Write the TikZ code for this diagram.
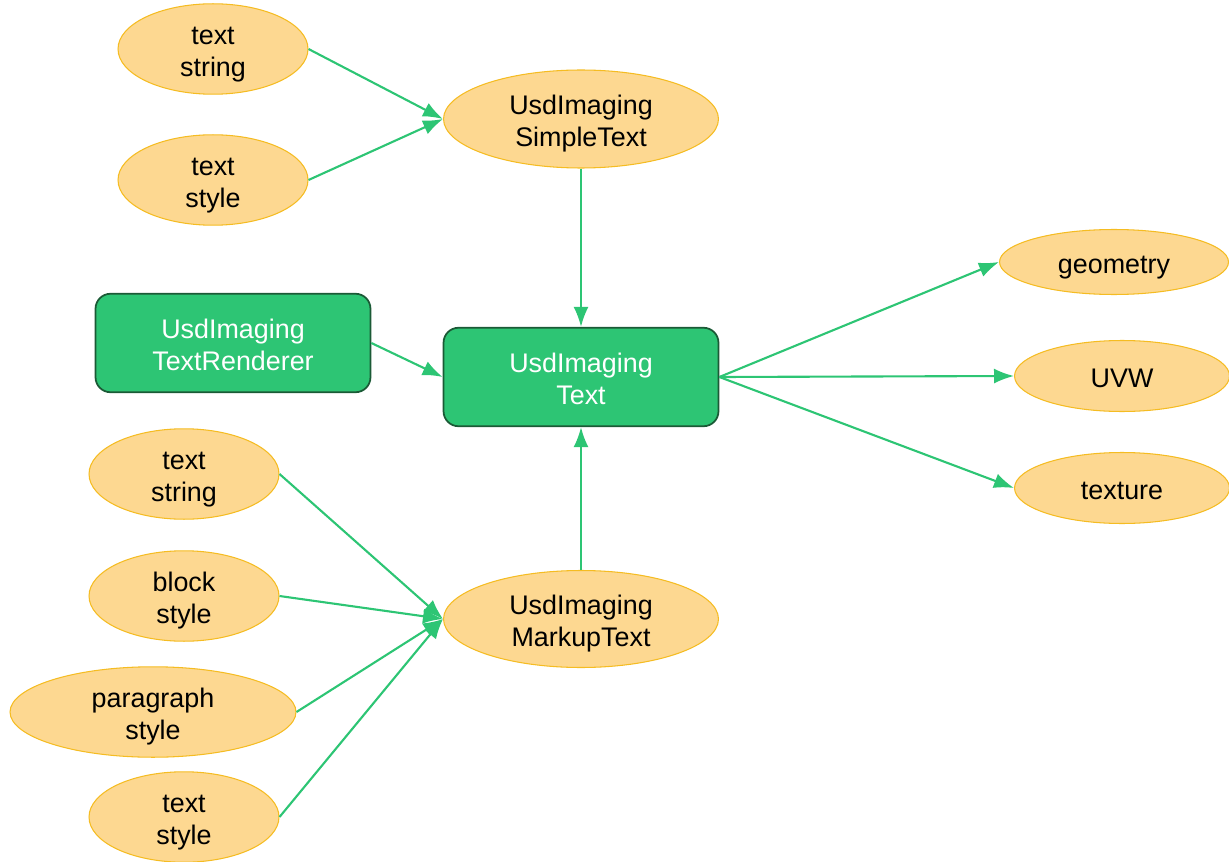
\documentclass[tikz,border=0pt]{standalone}
\usepackage{fontspec}
\setmainfont{Liberation Sans}
\usepackage{xcolor}
\usetikzlibrary{shapes.geometric,arrows.meta}

\definecolor{leaffill}{HTML}{FDD891}
\definecolor{leafline}{HTML}{F5BC22}
\definecolor{boxgreen}{HTML}{2DC574}
\definecolor{boxline}{HTML}{1B5A36}
\definecolor{arrowgreen}{HTML}{2DC574}

% node text, set a little lower than its box centre
\newcommand{\lbl}[1]{\raisebox{-0.1cm}[\height][\depth]{\begin{tabular}{@{}c@{}}#1\end{tabular}}}

\tikzset{
	leaf/.style={ellipse,draw=leafline,fill=leaffill,line width=0.6pt,inner sep=0pt,
		minimum width=3.8cm,minimum height=1.8cm,
		font=\fontsize{15.3}{18.2}\selectfont},
	core/.style={rectangle,rounded corners=0.3cm,draw=boxline,fill=boxgreen,
		line width=1pt,text=white,minimum width=5.5cm,minimum height=1.97cm,
		font=\fontsize{15.3}{18.2}\selectfont},
	link/.style={draw=arrowgreen,line width=1.2pt,-{Latex[length=0.4cm,width=0.3cm]}}
}

\begin{document}
\begin{tikzpicture}[x=0.02cm,y=-0.02cm]
		\useasboundingbox (0,0) rectangle (1229,861);
		
		% inputs of the simple text
		\node[leaf] (topstring) at (213,49) {\lbl{text\\string}};
		\node[leaf] (topstyle) at (213,180) {\lbl{text\\style}};
		\node[leaf,minimum width=5.5cm,minimum height=1.96cm] (simple) at (581,119) {\lbl{UsdImaging\\SimpleText}};
		
		% the text prim and its renderer
		\node[core] (renderer) at (233,343) {\lbl{UsdImaging\\TextRenderer}};
		\node[core] (text) at (581,377) {\lbl{UsdImaging\\Text}};
		
		% outputs
		\node[leaf,minimum width=4.58cm,minimum height=1.3cm] (geometry) at (1114,262) {\lbl{geometry}};
		\node[leaf,minimum width=4.3cm,minimum height=1.42cm] (uvw) at (1122,376) {\lbl{UVW}};
		\node[leaf,minimum width=4.3cm,minimum height=1.42cm] (texture) at (1122,488) {\lbl{texture}};
		
		% inputs of the markup text
		\node[leaf] (lowstring) at (184,474) {\lbl{text\\string}};
		\node[leaf] (block) at (184,596) {\lbl{block\\style}};
		\node[leaf,minimum width=5.72cm] (paragraph) at (153,712) {\lbl{paragraph\\style}};
		\node[leaf] (lowstyle) at (184,817) {\lbl{text\\style}};
		\node[leaf,minimum width=5.5cm,minimum height=1.94cm] (markup) at (581,619) {\lbl{UsdImaging\\MarkupText}};
		
		\draw[link] (topstring.east) -- (simple.west);
		\draw[link] (topstyle.east) -- (simple.west);
		\draw[link] (simple.south) -- (text.north);
		\draw[link] (renderer.east) -- (text.west);
		\draw[link] (markup.north) -- (text.south);
		
		\foreach \out in {geometry,uvw,texture}{
			\draw[link] (text.east) -- (\out.west);
		}
		
		\foreach \src in {lowstring,block,paragraph,lowstyle}{
			\draw[link] (\src.east) -- (markup.west);
		}
	\end{tikzpicture}
\end{document}
